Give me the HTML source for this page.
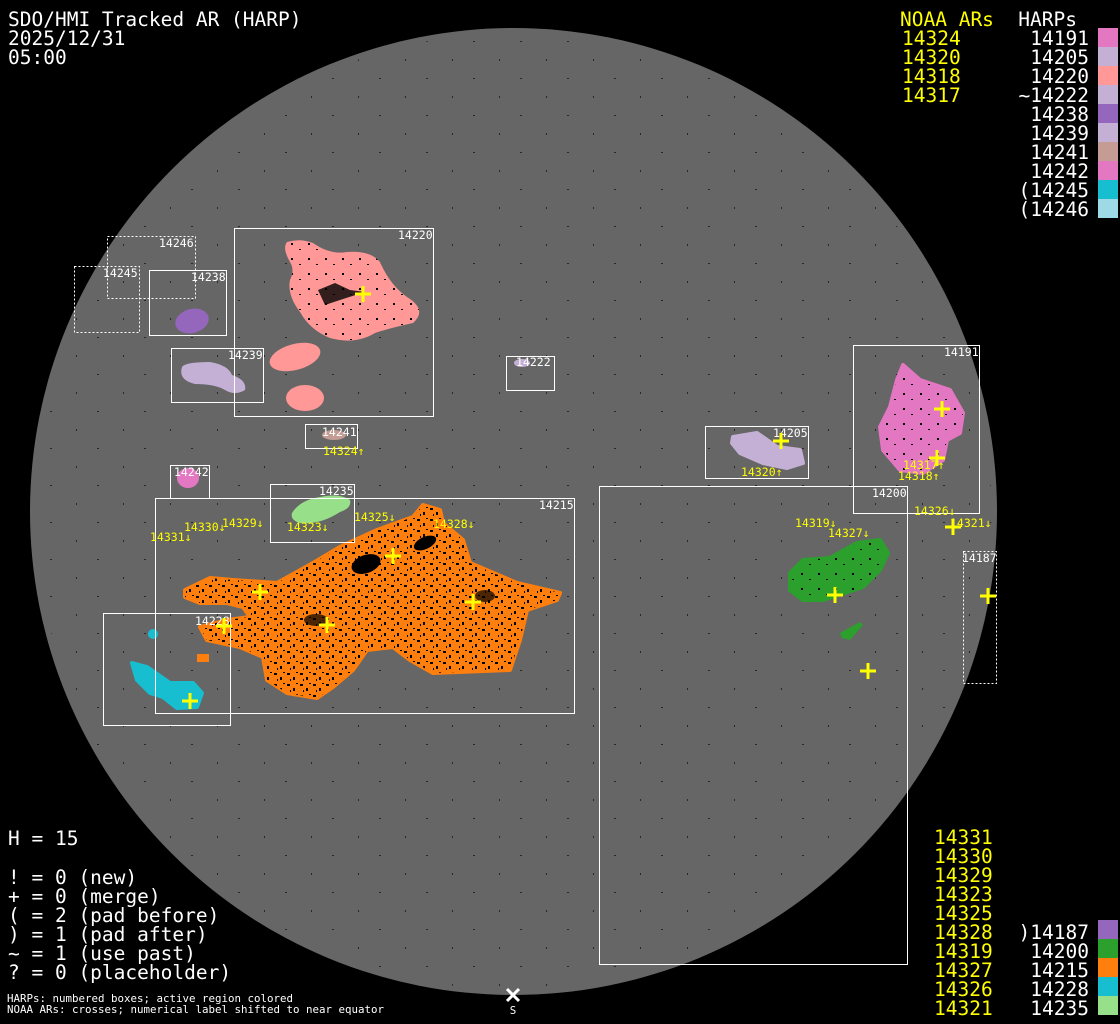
<!DOCTYPE html>
<html><head><meta charset="utf-8"><style>
html,body{margin:0;padding:0;background:#000;}
svg{display:block}
text{font-family:"DejaVu Sans Mono","Liberation Mono",monospace;}
</style></head><body>
<svg width="1120" height="1024" viewBox="0 0 1120 1024" xmlns="http://www.w3.org/2000/svg">
<defs>
<pattern id="spk" width="47" height="37" patternUnits="userSpaceOnUse">
<rect x="3" y="4" width="2" height="1" fill="#000"/><rect x="29" y="22" width="1" height="2" fill="#000"/>
</pattern>
<pattern id="blk" width="13" height="11" patternUnits="userSpaceOnUse">
<rect x="1" y="2" width="3" height="2" fill="#000"/><rect x="7" y="6" width="2" height="3" fill="#000"/><rect x="10" y="1" width="2" height="1" fill="#000"/><rect x="4" y="8" width="1" height="2" fill="#000"/>
</pattern>
<pattern id="blk2" width="17" height="15" patternUnits="userSpaceOnUse">
<rect x="2" y="3" width="2" height="2" fill="#000"/><rect x="10" y="9" width="2" height="1" fill="#000"/>
</pattern>
</defs>
<rect width="1120" height="1024" fill="#000"/>
<circle cx="513.5" cy="511.5" r="483.5" fill="#666"/>
<circle cx="513.5" cy="511.5" r="478" fill="url(#spk)" opacity="0.6"/>

<!-- 14220 salmon -->
<path d="M287,242 Q300,238 313,243 Q330,255 347,252 Q370,250 380,262 Q390,285 407,297 Q428,310 413,323 Q390,328 375,333 Q355,345 330,338 Q310,330 300,312 Q287,295 290,280 Q295,270 290,262 Q282,248 287,242 Z" fill="#ff9896"/>
<path d="M287,242 Q300,238 313,243 Q330,255 347,252 Q370,250 380,262 Q390,285 407,297 Q428,310 413,323 Q390,328 375,333 Q355,345 330,338 Q310,330 300,312 Q287,295 290,280 Q295,270 290,262 Q282,248 287,242 Z" fill="url(#blk2)"/>
<path d="M318,290 L335,283 L350,290 L365,292 L340,300 L325,305 Z" fill="#000" opacity="0.8"/>
<ellipse cx="295" cy="357" rx="26" ry="13" transform="rotate(-15 295 357)" fill="#ff9896"/>
<ellipse cx="305" cy="398" rx="19" ry="13" fill="#ff9896"/>
<!-- 14238 -->
<ellipse cx="192" cy="321" rx="17" ry="12" transform="rotate(-15 192 321)" fill="#9467bd"/>
<!-- 14239 -->
<path d="M182,367 Q185,362 210,362 Q228,365 232,375 Q247,380 245,390 Q235,396 225,390 Q215,384 195,384 Q178,380 182,367 Z" fill="#c5b0d5"/>
<!-- 14241 -->
<ellipse cx="334" cy="435" rx="12" ry="5" fill="#c49c94"/>
<!-- 14242 -->
<ellipse cx="188" cy="478" rx="11" ry="10" fill="#e377c2"/>
<!-- 14222 -->
<ellipse cx="522" cy="363" rx="8" ry="4" fill="#c5b0d5"/>
<!-- 14235 -->
<path d="M292,513 Q300,500 320,497 Q340,493 350,500 Q352,508 340,512 Q320,525 300,523 Q290,520 292,513 Z" fill="#98df8a"/>
<!-- 14215 orange -->
<path d="M185,590 L210,578 L233,580 L277,583 L313,563 L340,547 L377,530 L413,517 L423,505 L440,510 L443,523 L463,540 L470,563 L517,583 L560,593 L557,600 L527,610 L520,640 L510,670 L433,673 L410,660 L393,647 L367,650 L353,670 L333,687 L317,698 L287,693 L267,680 L263,657 L240,647 L207,640 L200,627 L227,620 L250,617 L243,607 L227,603 L200,603 L185,597 Z" fill="#ff7f0e" stroke="#ff7f0e" stroke-width="4" stroke-linejoin="round"/>
<path d="M185,590 L210,578 L233,580 L277,583 L313,563 L340,547 L377,530 L413,517 L423,505 L440,510 L443,523 L463,540 L470,563 L517,583 L560,593 L557,600 L527,610 L520,640 L510,670 L433,673 L410,660 L393,647 L367,650 L353,670 L333,687 L317,698 L287,693 L267,680 L263,657 L240,647 L207,640 L200,627 L227,620 L250,617 L243,607 L227,603 L200,603 L185,597 Z" fill="url(#blk)"/>
<ellipse cx="366" cy="564" rx="15" ry="9" transform="rotate(-20 366 564)" fill="#000"/>
<ellipse cx="425" cy="543" rx="12" ry="6" transform="rotate(-25 425 543)" fill="#000"/>
<ellipse cx="316" cy="620" rx="12" ry="6" fill="#000" opacity="0.7"/>
<ellipse cx="485" cy="596" rx="10" ry="6" fill="#000" opacity="0.7"/>
<rect x="197" y="654" width="12" height="8" fill="#ff7f0e"/>
<!-- 14228 cyan -->
<path d="M132,663 L147,667 L170,683 L193,683 L202,693 L197,707 L177,708 L163,697 L150,693 L137,680 Z" fill="#17becf" stroke="#17becf" stroke-width="4" stroke-linejoin="round"/>
<circle cx="153" cy="634" r="5" fill="#17becf"/>
<!-- 14191 pink -->
<path d="M903,365 L920,380 L950,390 L963,413 L960,433 L947,440 L943,460 L923,473 L900,470 L883,450 L880,427 L890,407 L897,380 Z" fill="#e377c2" stroke="#e377c2" stroke-width="4" stroke-linejoin="round"/>
<path d="M903,365 L920,380 L950,390 L963,413 L960,433 L947,440 L943,460 L923,473 L900,470 L883,450 L880,427 L890,407 L897,380 Z" fill="url(#blk2)"/>
<!-- 14205 -->
<path d="M733,437 L757,433 L777,447 L800,450 L803,463 L787,468 L763,463 L740,453 L732,443 Z" fill="#c5b0d5" stroke="#c5b0d5" stroke-width="4" stroke-linejoin="round"/>
<!-- 14200 green -->
<path d="M790,573 L803,560 L830,558 L857,543 L880,540 L888,553 L880,570 L863,587 L823,600 L803,600 L790,590 Z" fill="#2ca02c" stroke="#2ca02c" stroke-width="4" stroke-linejoin="round"/>
<path d="M790,573 L803,560 L830,558 L857,543 L880,540 L888,553 L880,570 L863,587 L823,600 L803,600 L790,590 Z" fill="url(#blk2)"/>
<path d="M840,633 L860,622 L863,625 L850,640 L842,638 Z" fill="#2ca02c"/>

<!-- boxes -->
<g fill="none" stroke="#fff" stroke-width="1">
<rect x="107.5" y="236.5" width="88" height="62" stroke-dasharray="2,2"/>
<rect x="74.5" y="266.5" width="65" height="66" stroke-dasharray="2,2"/>
<rect x="149.5" y="270.5" width="77" height="65"/>
<rect x="234.5" y="228.5" width="199" height="188"/>
<rect x="171.5" y="348.5" width="92" height="54"/>
<rect x="506.5" y="356.5" width="48" height="34"/>
<rect x="305.5" y="424.5" width="52" height="24"/>
<rect x="170.5" y="465.5" width="39" height="33"/>
<rect x="270.5" y="484.5" width="84" height="58"/>
<rect x="155.5" y="498.5" width="419" height="215"/>
<rect x="103.5" y="613.5" width="127" height="112"/>
<rect x="705.5" y="426.5" width="103" height="52"/>
<rect x="853.5" y="345.5" width="126" height="168"/>
<rect x="599.5" y="486.5" width="308" height="478"/>
<rect x="963.5" y="551.5" width="33" height="132" stroke-dasharray="2,2"/>
</g>
<g fill="#fff" font-size="11.5">
<text x="159" y="247">14246</text><text x="103" y="277">14245</text><text x="191" y="281">14238</text>
<text x="398" y="239">14220</text><text x="228" y="359">14239</text><text x="516" y="366">14222</text>
<text x="322" y="436">14241</text><text x="174" y="476">14242</text><text x="319" y="495">14235</text>
<text x="539" y="509">14215</text><text x="195" y="625">14228</text><text x="773" y="437">14205</text>
<text x="944" y="356">14191</text><text x="872" y="497">14200</text><text x="962" y="562">14187</text>
</g>
<!-- crosses -->
<g stroke="#ff0" stroke-width="3">
<path d="M355,294h16M363,286v16M385,556h16M393,548v16M252,592h16M260,584v16M319,625h16M327,617v16M465,602h16M473,594v16M216,626h16M224,618v16M182,701h16M190,693v16M773,441h16M781,433v16M934,409h16M942,401v16M929,458h16M937,450v16M827,595h16M835,587v16M945,527h16M953,519v16M980,596h16M988,588v16M860,671h16M868,663v16"/>
</g>
<g fill="#ff0" font-size="11.5">
<text x="323" y="455">14324↑</text><text x="150" y="541">14331↓</text><text x="184" y="531">14330↓</text>
<text x="222" y="527">14329↓</text><text x="287" y="531">14323↓</text><text x="354" y="521">14325↓</text>
<text x="433" y="528">14328↓</text><text x="741" y="476">14320↑</text><text x="903" y="469">14317↑</text>
<text x="898" y="480">14318↑</text><text x="914" y="515">14326↓</text><text x="950" y="527">14321↓</text>
<text x="795" y="527">14319↓</text><text x="828" y="537">14327↓</text>
</g>

<!-- header -->
<g fill="#fff" font-size="19.5">
<text x="8" y="26">SDO/HMI Tracked AR (HARP)</text>
<text x="8" y="45">2025/12/31</text>
<text x="8" y="64">05:00</text>
</g>
<g fill="#ff0" font-size="19.5">
<text x="900" y="26">NOAA ARs</text>
<text x="902" y="45">14324</text><text x="902" y="64">14320</text><text x="902" y="83">14318</text><text x="902" y="102">14317</text>
</g>
<g fill="#fff" font-size="19.5" text-anchor="end">
<text x="1077" y="26">HARPs</text>
<text x="1089" y="45">14191</text><text x="1089" y="64">14205</text><text x="1089" y="83">14220</text><text x="1089" y="102">~14222</text>
<text x="1089" y="121">14238</text><text x="1089" y="140">14239</text><text x="1089" y="159">14241</text><text x="1089" y="178">14242</text>
<text x="1089" y="197">(14245</text><text x="1089" y="216">(14246</text>
</g>
<rect x="1098" y="28" width="20" height="19" fill="#e377c2"/>
<rect x="1098" y="47" width="20" height="19" fill="#c5b0d5"/>
<rect x="1098" y="66" width="20" height="19" fill="#ff9896"/>
<rect x="1098" y="85" width="20" height="19" fill="#c5b0d5"/>
<rect x="1098" y="104" width="20" height="19" fill="#9467bd"/>
<rect x="1098" y="123" width="20" height="19" fill="#c5b0d5"/>
<rect x="1098" y="142" width="20" height="19" fill="#c49c94"/>
<rect x="1098" y="161" width="20" height="19" fill="#e377c2"/>
<rect x="1098" y="180" width="20" height="19" fill="#17becf"/>
<rect x="1098" y="199" width="20" height="19" fill="#9edae5"/>

<!-- bottom left -->
<g fill="#fff" font-size="19.5">
<text x="8" y="845">H = 15</text>
<text x="8" y="884">! = 0 (new)</text>
<text x="8" y="903">+ = 0 (merge)</text>
<text x="8" y="922">( = 2 (pad before)</text>
<text x="8" y="941">) = 1 (pad after)</text>
<text x="8" y="960">~ = 1 (use past)</text>
<text x="8" y="979">? = 0 (placeholder)</text>
</g>
<g fill="#fff" font-size="10.8">
<text x="7" y="1002">HARPs: numbered boxes; active region colored</text>
<text x="7" y="1013">NOAA ARs: crosses; numerical label shifted to near equator</text>
</g>
<path d="M507,989l12,12M519,989l-12,12" stroke="#fff" stroke-width="3"/>
<text x="513" y="1014" fill="#fff" font-size="10.8" text-anchor="middle">S</text>

<!-- bottom right -->
<g fill="#ff0" font-size="19.5">
<text x="934" y="844">14331</text><text x="934" y="863">14330</text><text x="934" y="882">14329</text>
<text x="934" y="901">14323</text><text x="934" y="920">14325</text><text x="934" y="939">14328</text>
<text x="934" y="958">14319</text><text x="934" y="977">14327</text><text x="934" y="996">14326</text>
<text x="934" y="1015">14321</text>
</g>
<g fill="#fff" font-size="19.5" text-anchor="end">
<text x="1089" y="939">)14187</text><text x="1089" y="958">14200</text><text x="1089" y="977">14215</text>
<text x="1089" y="996">14228</text><text x="1089" y="1015">14235</text>
</g>
<rect x="1098" y="920" width="20" height="19" fill="#9467bd"/>
<rect x="1098" y="939" width="20" height="19" fill="#2ca02c"/>
<rect x="1098" y="958" width="20" height="19" fill="#ff7f0e"/>
<rect x="1098" y="977" width="20" height="19" fill="#17becf"/>
<rect x="1098" y="996" width="20" height="19" fill="#98df8a"/>
</svg>
</body></html>
